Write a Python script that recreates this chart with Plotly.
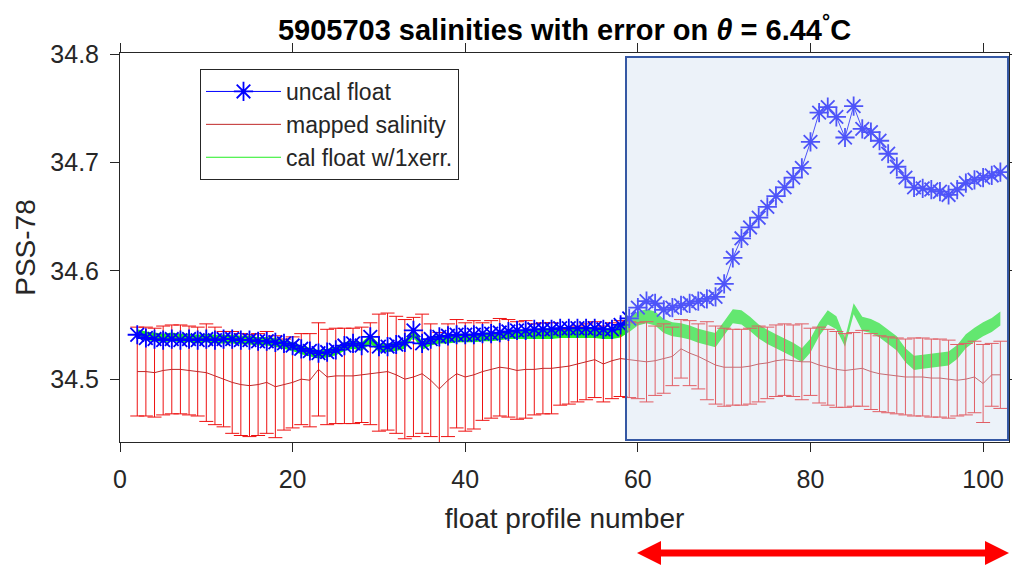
import plotly.graph_objects as go

# ---------------- data ----------------
profiles = list(range(2, 103))

uncal_float = [
    34.541, 34.538, 34.537, 34.536, 34.537, 34.536, 34.537, 34.536, 34.537, 34.536,   # 2-11
    34.537, 34.537, 34.536, 34.536, 34.535, 34.535, 34.534, 34.533, 34.531, 34.528,   # 12-21
    34.526, 34.524, 34.525, 34.527, 34.531, 34.533, 34.531, 34.539, 34.530, 34.530,   # 22-31
    34.532, 34.534, 34.545, 34.533, 34.537, 34.539, 34.540, 34.541, 34.541, 34.541,   # 32-41
    34.542, 34.542, 34.543, 34.544, 34.545, 34.545, 34.546, 34.546, 34.546, 34.547,   # 42-51
    34.547, 34.547, 34.547, 34.547, 34.546, 34.546, 34.550, 34.556, 34.566, 34.572,   # 52-61
    34.570, 34.564, 34.566, 34.568, 34.570, 34.572, 34.574, 34.576, 34.588, 34.612,   # 62-71
    34.630, 34.640, 34.649, 34.659, 34.669, 34.677, 34.686, 34.695, 34.719, 34.746,   # 72-81
    34.751, 34.742, 34.723, 34.752, 34.731, 34.728, 34.720, 34.708, 34.696, 34.686,   # 82-91
    34.677, 34.676, 34.675, 34.673, 34.670, 34.675, 34.681, 34.684, 34.686, 34.688,   # 92-101
    34.691,                                                                           # 102
]

mapped_salinity = [
    34.507, 34.507, 34.506, 34.508, 34.509, 34.509, 34.508, 34.507, 34.506, 34.503,   # 2-11
    34.500, 34.497, 34.495, 34.494, 34.495, 34.497, 34.493, 34.495, 34.497, 34.500,   # 12-21
    34.499, 34.509, 34.502, 34.503, 34.503, 34.503, 34.504, 34.505, 34.506, 34.507,   # 22-31
    34.504, 34.500, 34.502, 34.505, 34.499, 34.491, 34.499, 34.505, 34.502, 34.504,   # 32-41
    34.507, 34.509, 34.511, 34.510, 34.508, 34.509, 34.509, 34.510, 34.510, 34.511,   # 42-51
    34.512, 34.514, 34.516, 34.518, 34.514, 34.517, 34.519, 34.518, 34.517, 34.516,   # 52-61
    34.517, 34.519, 34.521, 34.528, 34.524, 34.521, 34.517, 34.513, 34.511, 34.511,   # 62-71
    34.511, 34.512, 34.514, 34.515, 34.517, 34.518, 34.517, 34.516, 34.516, 34.513,   # 72-81
    34.511, 34.509, 34.508, 34.509, 34.510, 34.507, 34.505, 34.504, 34.503, 34.502,   # 82-91
    34.502, 34.502, 34.501, 34.501, 34.500, 34.499, 34.500, 34.502, 34.496, 34.504,   # 92-101
    34.504,                                                                           # 102
]

mapped_error = [
    0.041, 0.041, 0.041, 0.041, 0.041, 0.041, 0.041, 0.041, 0.045, 0.045,   # 2-11
    0.044, 0.047, 0.047, 0.047, 0.047, 0.047, 0.047, 0.042, 0.042, 0.042,   # 12-21
    0.043, 0.043, 0.044, 0.044, 0.044, 0.044, 0.044, 0.047, 0.054, 0.054,   # 22-31
    0.054, 0.055, 0.055, 0.055, 0.052, 0.052, 0.052, 0.050, 0.050, 0.050,   # 32-41
    0.045, 0.045, 0.045, 0.045, 0.045, 0.045, 0.042, 0.042, 0.042, 0.035,   # 42-51
    0.035, 0.035, 0.035, 0.035, 0.035, 0.035, 0.035, 0.035, 0.035, 0.037,   # 52-61
    0.032, 0.032, 0.027, 0.027, 0.030, 0.030, 0.036, 0.036, 0.036, 0.035,   # 62-71
    0.035, 0.035, 0.035, 0.033, 0.033, 0.033, 0.033, 0.035, 0.031, 0.035,   # 72-81
    0.035, 0.035, 0.034, 0.034, 0.035, 0.035, 0.035, 0.035, 0.035, 0.035,   # 82-91
    0.036, 0.036, 0.036, 0.036, 0.036, 0.033, 0.033, 0.033, 0.036, 0.029,   # 92-101
    0.031,                                                                  # 102
]

cal_float = [
    34.542, 34.540, 34.539, 34.538, 34.539, 34.538, 34.538, 34.537, 34.538, 34.537,   # 2-11
    34.537, 34.537, 34.536, 34.536, 34.535, 34.535, 34.534, 34.532, 34.530, 34.527,   # 12-21
    34.525, 34.523, 34.524, 34.526, 34.530, 34.532, 34.530, 34.537, 34.529, 34.529,   # 22-31
    34.530, 34.532, 34.543, 34.531, 34.535, 34.537, 34.537, 34.538, 34.538, 34.538,   # 32-41
    34.539, 34.539, 34.540, 34.541, 34.541, 34.541, 34.542, 34.542, 34.542, 34.543,   # 42-51
    34.543, 34.543, 34.543, 34.543, 34.542, 34.542, 34.545, 34.550, 34.556, 34.558,   # 52-61
    34.556, 34.549, 34.546, 34.545, 34.543, 34.540, 34.538, 34.536, 34.547, 34.558,   # 62-71
    34.557, 34.551, 34.544, 34.539, 34.535, 34.531, 34.527, 34.522, 34.531, 34.546,   # 72-81
    34.557, 34.552, 34.534, 34.565, 34.551, 34.549, 34.545, 34.539, 34.533, 34.522,   # 82-91
    34.515, 34.516, 34.517, 34.518, 34.519, 34.525, 34.535, 34.541, 34.546, 34.550,   # 92-101
    34.556,                                                                           # 102
]

cal_error = [
    0.004, 0.004, 0.004, 0.004, 0.004, 0.004, 0.004, 0.004, 0.004, 0.004,   # 2-11
    0.004, 0.004, 0.004, 0.004, 0.004, 0.004, 0.004, 0.004, 0.004, 0.004,   # 12-21
    0.004, 0.004, 0.004, 0.004, 0.004, 0.004, 0.004, 0.004, 0.004, 0.004,   # 22-31
    0.004, 0.004, 0.004, 0.004, 0.004, 0.004, 0.004, 0.004, 0.004, 0.004,   # 32-41
    0.004, 0.004, 0.004, 0.004, 0.004, 0.004, 0.0045, 0.0045, 0.005, 0.005,   # 42-51
    0.005, 0.005, 0.005, 0.005, 0.005, 0.005, 0.0065, 0.0065, 0.0065, 0.0065,  # 52-61
    0.0065, 0.0065, 0.0065, 0.0065, 0.0065, 0.0065, 0.0065, 0.0065, 0.0065, 0.0065,  # 62-71
    0.0065, 0.0065, 0.0065, 0.0065, 0.0065, 0.0065, 0.0065, 0.0065, 0.0065, 0.0065,  # 72-81
    0.0065, 0.006, 0.004, 0.005, 0.0065, 0.0065, 0.0065, 0.0065, 0.0065, 0.0065,   # 82-91
    0.0065, 0.0065, 0.0065, 0.0065, 0.0065, 0.0065, 0.0065, 0.0065, 0.0065, 0.0065,  # 92-101
    0.0065,                                                                         # 102
]

x_ticks = [0, 20, 40, 60, 80, 100]
y_ticks = [34.5, 34.6, 34.7, 34.8]

# ---------------- figure ----------------
W, H = 1012, 568
ML, MR, MT, MB = 120, 3, 53, 126
PW, PH = W - ML - MR, H - MT - MB


def px(xp):
    return (xp - ML) / PW


def py(yp):
    return (H - MB - yp) / PH


AX = "#262626"
FONT = "Liberation Sans, Arial, Helvetica, sans-serif"

cal_low = [c - e for c, e in zip(cal_float, cal_error)]
cal_high = [c + e for c, e in zip(cal_float, cal_error)]

fig = go.Figure()

# green error band of calibrated float
fig.add_trace(go.Scatter(x=profiles, y=cal_low, mode="lines",
                         line=dict(width=0, color="#22ee22"),
                         showlegend=False, hoverinfo="skip"))
fig.add_trace(go.Scatter(x=profiles, y=cal_high, mode="lines", fill="tonexty",
                         fillcolor="#22ee22", line=dict(width=0, color="#22ee22"),
                         showlegend=False, hoverinfo="skip"))

# mapped salinity with error bars
fig.add_trace(go.Scatter(x=profiles, y=mapped_salinity, mode="lines",
                         name="mapped salinity", legendrank=2,
                         line=dict(color="#c02828", width=1),
                         error_y=dict(type="data", array=mapped_error, visible=True,
                                      color="#ee1111", thickness=1, width=7)))

# uncalibrated float
fig.add_trace(go.Scatter(x=profiles, y=uncal_float, mode="lines+markers",
                         name="uncal float", legendrank=1,
                         line=dict(color="#0000ff", width=1),
                         marker=dict(symbol="asterisk-open", size=16, color="#0000ff",
                                     line=dict(color="#0000ff", width=1.8))))

# legend-only entry for the calibrated float band
fig.add_trace(go.Scatter(x=[None], y=[None], mode="lines", name="cal float w/1xerr.",
                         legendrank=3, line=dict(color="#22ee22", width=1)))

axis_common = dict(showline=True, linecolor=AX, linewidth=1, mirror="ticks",
                   ticks="outside", ticklen=9, tickcolor=AX, tickwidth=1,
                   showgrid=False, zeroline=False, automargin=False,
                   tickfont=dict(family=FONT, size=25, color=AX))

fig.update_xaxes(range=[0, 103], tickvals=x_ticks, ticklabelstandoff=6,
                 title=dict(text="float profile number",
                            font=dict(family=FONT, size=28, color=AX), standoff=16),
                 **axis_common)
fig.update_yaxes(range=[34.442, 34.801], tickvals=y_ticks, tickformat=".1f",
                 ticklabelstandoff=6,
                 title=dict(text="PSS-78",
                            font=dict(family=FONT, size=28, color=AX), standoff=6),
                 **axis_common)

# highlight box over the recalibration segment + red double arrow
shapes = [
    dict(type="rect", xref="paper", yref="paper",
         x0=px(626), x1=px(1008), y0=py(440), y1=py(57),
         fillcolor="rgba(205,220,238,0.38)", line=dict(color="#3558a4", width=2),
         layer="above"),
    dict(type="line", xref="paper", yref="paper",
         x0=px(655), x1=px(990), y0=py(553), y1=py(553),
         line=dict(color="#ff0000", width=7)),
    dict(type="path", xref="paper", yref="paper",
         path=f"M {px(637)},{py(553)} L {px(661)},{py(541)} L {px(661)},{py(565)} Z",
         fillcolor="#ff0000", line=dict(color="#ff0000", width=0)),
    dict(type="path", xref="paper", yref="paper",
         path=f"M {px(1009)},{py(553)} L {px(985)},{py(541)} L {px(985)},{py(565)} Z",
         fillcolor="#ff0000", line=dict(color="#ff0000", width=0)),
]

fig.update_layout(
    width=W, height=H,
    margin=dict(l=ML, r=MR, t=MT, b=MB, autoexpand=False),
    paper_bgcolor="white", plot_bgcolor="white",
    title=dict(text="<b>5905703 salinities with error on <i>θ</i> = 6.44<sup>°</sup>C</b>",
               x=0.5, xref="paper", xanchor="center",
               y=1 - 30 / H, yref="container", yanchor="middle",
               font=dict(family=FONT, size=29, color="black")),
    legend=dict(x=px(200), y=py(69), xanchor="left", yanchor="top",
                traceorder="normal",
                bgcolor="white", bordercolor=AX, borderwidth=1,
                font=dict(family=FONT, size=23, color=AX),
                tracegroupgap=0, itemwidth=75),
    shapes=shapes,
    showlegend=True,
)

fig.write_html("out.html", config={"displayModeBar": False},
               post_script="document.body.style.margin='0';document.body.style.overflow='hidden';")
